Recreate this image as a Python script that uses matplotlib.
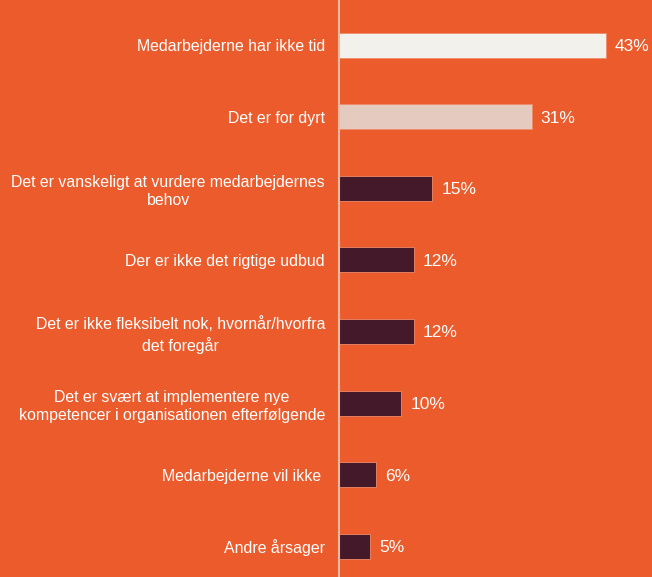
import matplotlib.pyplot as plt

categories = [
    "Medarbejderne har ikke tid",
    "Det er for dyrt",
    "Det er vanskeligt at vurdere medarbejdernes\nbehov",
    "Der er ikke det rigtige udbud",
    "Det er ikke fleksibelt nok, hvornår/hvorfra\ndet foregår",
    "Det er svært at implementere nye\nkompetencer i organisationen efterfølgende",
    "Medarbejderne vil ikke ",
    "Andre årsager",
]
values = [43, 31, 15, 12, 12, 10, 6, 5]
bar_colors = ["#F3F1EC", "#E5CBBF"] + ["#441A2A"] * 6

bg = "#EC5B2B"
plt.rcParams["font.family"] = ["Liberation Sans", "DejaVu Sans"]

fig = plt.figure(figsize=(6.52, 5.77), dpi=100, facecolor=bg)
ax = fig.add_axes([339 / 652, 0, 1 - 339 / 652, 1])
ax.set_facecolor(bg)

ypos = list(range(len(values)))
ax.barh(ypos, values, height=0.35, color=bar_colors,
        edgecolor="#F08A66", linewidth=0.6)

ax.set_xlim(0, 50.4)
ax.set_ylim(len(values) - 1 + 0.43, -0.63)

for y, v in zip(ypos, values):
    ax.annotate(f"{v}%", (v, y), xytext=(6.5, -1), textcoords="offset points",
                ha="left", va="center", color="white", fontsize=12.5,
                annotation_clip=False)

ax.set_yticks(ypos)
ax.set_yticklabels(categories, fontsize=11.4, color="white",
                   multialignment="center", linespacing=1.3)
ax.tick_params(axis="y", length=0, pad=10)
ax.set_xticks([])

for s in ["top", "right", "bottom"]:
    ax.spines[s].set_visible(False)
ax.spines["left"].set_color("#F2B9A2")
ax.spines["left"].set_linewidth(1.5)

fig.savefig("out.png", dpi=100, facecolor=bg)
